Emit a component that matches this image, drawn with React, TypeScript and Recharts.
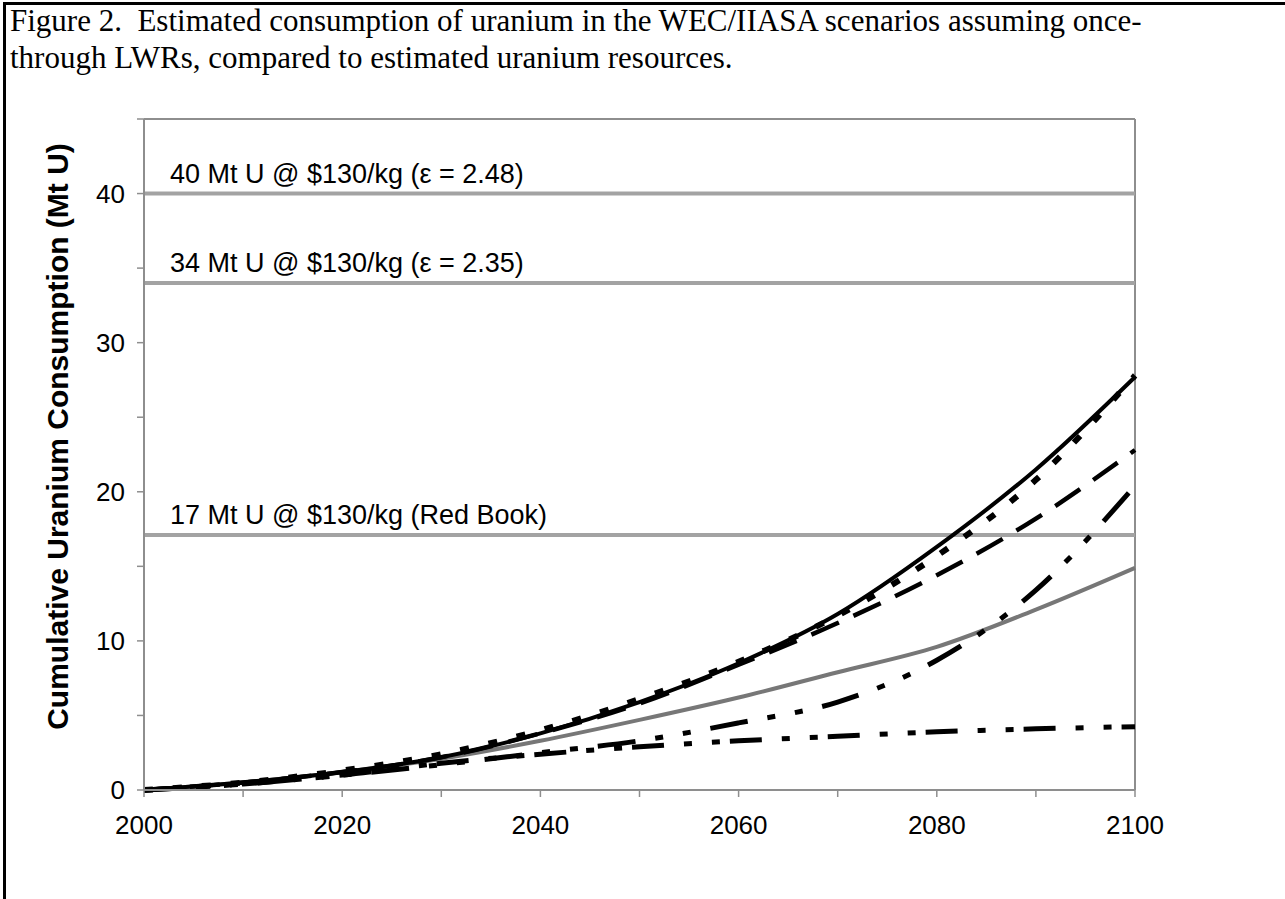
import React from "react";
import {
  LineChart,
  Line,
  XAxis,
  YAxis,
  ReferenceLine,
  Label,
} from "recharts";

const YEARS = [2000, 2010, 2020, 2030, 2040, 2050, 2060, 2070, 2080, 2090, 2100];
const SOLID_BLACK = [0, 0.5, 1.2, 2.2, 3.8, 5.9, 8.5, 11.8, 16.3, 21.5, 27.7];
const SHORT_DASH = [0, 0.5, 1.3, 2.4, 4.0, 6.1, 8.6, 11.7, 15.7, 20.8, 27.8];
const LONG_DASH = [0, 0.5, 1.2, 2.2, 3.8, 5.8, 8.4, 11.2, 14.4, 18.2, 22.8];
const RISING_DASH_DOT = [0, 0.4, 1.0, 1.7, 2.5, 3.3, 4.5, 5.9, 8.7, 13.4, 20.4];
const FLAT_DASH_DOT = [0, 0.4, 1.0, 1.8, 2.4, 2.9, 3.3, 3.6, 3.9, 4.1, 4.25];
const GREY_SOLID = [0, 0.5, 1.2, 2.1, 3.3, 4.7, 6.2, 7.9, 9.6, 12.1, 14.9];

const X_TICKS = [2000, 2010, 2020, 2030, 2040, 2050, 2060, 2070, 2080, 2090, 2100];
const Y_TICKS = [0, 5, 10, 15, 20, 25, 30, 35, 40, 45];

const RESOURCE_LEVELS = [40, 34, 17.1];
const RESOURCE_LABELS = [
  "40 Mt U @ $130/kg (\u03b5 = 2.48)",
  "34 Mt U @ $130/kg (\u03b5 = 2.35)",
  "17 Mt U @ $130/kg (Red Book)",
];

const data = YEARS.map((year, i) => ({
  year,
  solid: SOLID_BLACK[i],
  shortDash: SHORT_DASH[i],
  longDash: LONG_DASH[i],
  risingDashDot: RISING_DASH_DOT[i],
  flatDashDot: FLAT_DASH_DOT[i],
  grey: GREY_SOLID[i],
}));

const SANS = "Arial, 'Liberation Sans', sans-serif";
const AXIS_GREY = "#8e8e8e";
const REF_GREY = "#a3a3a3";

function ResourceLabel(props: { viewBox?: { x: number; y: number }; text: string }) {
  const { viewBox, text } = props;
  if (!viewBox) return null;
  return (
    <text x={viewBox.x + 26} y={viewBox.y - 11} fontSize={27} fontFamily={SANS} fill="#000">
      {text}
    </text>
  );
}

function YTitle(props: { viewBox?: { x: number; y: number; width: number; height: number } }) {
  const vb = props.viewBox;
  if (!vb) return null;
  const cx = vb.x - 27;
  const cy = vb.y + vb.height / 2 - 18;
  return (
    <text
      x={cx}
      y={cy}
      transform={`rotate(-90 ${cx} ${cy})`}
      textAnchor="middle"
      dominantBaseline="central"
      fontSize={30}
      fontWeight="bold"
      fontFamily={SANS}
      fill="#000"
    >
      Cumulative Uranium Consumption (Mt U)
    </text>
  );
}

export default function App() {
  return (
    <div style={{ position: "absolute", left: 0, top: 0, width: 1285, height: 899, background: "#fff", overflow: "hidden" }}>
      <div
        style={{
          position: "absolute",
          left: 3,
          top: 2,
          width: 1290,
          height: 910,
          borderTop: "3px solid #000",
          borderLeft: "3px solid #000",
        }}
      />
      <div
        style={{
          position: "absolute",
          left: 10,
          top: 2,
          fontFamily: "'Times New Roman', 'Liberation Serif', serif",
          fontSize: 31,
          lineHeight: "37px",
          color: "#000",
          whiteSpace: "pre",
        }}
      >
        {"Figure 2.  Estimated consumption of uranium in the WEC/IIASA scenarios assuming once-\nthrough LWRs, compared to estimated uranium resources."}
      </div>

      <div style={{ position: "absolute", left: 0, top: 0 }}>
        <LineChart width={1285} height={899} data={data} margin={{ top: 119, right: 150, bottom: 69, left: 84 }}>
          <XAxis
            dataKey="year"
            type="number"
            domain={[2000, 2100]}
            ticks={X_TICKS}
            tickFormatter={(v: number) => (v % 20 === 0 ? String(v) : "")}
            tick={{ fontSize: 26, fill: "#000", fontFamily: SANS }}
            axisLine={{ stroke: AXIS_GREY, strokeWidth: 2 }}
            tickLine={{ stroke: AXIS_GREY, strokeWidth: 1.5 }}
            tickSize={7}
            tickMargin={19}
            height={40}
          />
          <YAxis
            type="number"
            domain={[0, 45]}
            ticks={Y_TICKS}
            tickFormatter={(v: number) => (v % 10 === 0 ? String(v) : "")}
            tick={{ fontSize: 26, fill: "#000", fontFamily: SANS }}
            axisLine={{ stroke: AXIS_GREY, strokeWidth: 2 }}
            tickLine={{ stroke: AXIS_GREY, strokeWidth: 1.5 }}
            tickSize={7}
            tickMargin={12}
            width={60}
            interval={0}
          >
            <Label content={<YTitle />} />
          </YAxis>

          {/* plot-area frame, top and right */}
          <ReferenceLine y={45} stroke={AXIS_GREY} strokeWidth={2} />
          <ReferenceLine x={2100} stroke={AXIS_GREY} strokeWidth={2} />

          {RESOURCE_LEVELS.map((level, i) => (
            <ReferenceLine
              key={level}
              y={level}
              stroke={REF_GREY}
              strokeWidth={4}
              label={<ResourceLabel text={RESOURCE_LABELS[i]} />}
            />
          ))}

          <Line type="monotone" dataKey="grey" stroke="#777" strokeWidth={4} dot={false} isAnimationActive={false} />
          <Line
            type="monotone"
            dataKey="flatDashDot"
            stroke="#000"
            strokeWidth={5}
            strokeDasharray="32 20 8 20 8 10"
            dot={false}
            isAnimationActive={false}
          />
          <Line
            type="monotone"
            dataKey="risingDashDot"
            stroke="#000"
            strokeWidth={5}
            strokeDasharray="38 20 8 20 8 20"
            dot={false}
            isAnimationActive={false}
          />
          <Line
            type="monotone"
            dataKey="longDash"
            stroke="#000"
            strokeWidth={4.5}
            strokeDasharray="30 16"
            dot={false}
            isAnimationActive={false}
          />
          <Line type="monotone" dataKey="solid" stroke="#000" strokeWidth={4} dot={false} isAnimationActive={false} />
          <Line
            type="monotone"
            dataKey="shortDash"
            stroke="#000"
            strokeWidth={6}
            strokeDasharray="9 20"
            dot={false}
            isAnimationActive={false}
          />
        </LineChart>
      </div>
    </div>
  );
}
